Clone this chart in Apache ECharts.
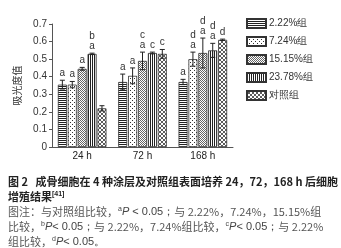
<!DOCTYPE html>
<html>
<head>
<meta charset="utf-8">
<script src="https://cdn.jsdelivr.net/npm/echarts@6/dist/echarts.min.js"></script>
<style>
  html, body { margin: 0; padding: 0; background: #fff; }
  #chart { width: 341px; height: 248px; }
</style>
</head>
<body>
<div id="chart"></div>
<script>
// data
const categories = ['24 h', '72 h', '168 h']
const groups = ['2.22%组', '7.24%组', '15.15%组', '23.78%组', '对照组']
const means = [
  [0.355, 0.37, 0.37],
  [0.355, 0.405, 0.50],
  [0.445, 0.49, 0.535],
  [0.53, 0.535, 0.55],
  [0.22, 0.53, 0.61]
]
const errs = [
  [0.025, 0.045, 0.015],
  [0.018, 0.045, 0.04],
  [0.008, 0.05, 0.085],
  [0.004, 0.005, 0.04],
  [0.015, 0.025, 0.004]
]
const marks = [
  ['a', 'a', 'a'],
  ['a', 'a', 'd\na'],
  ['a', 'c\na', 'd\na'],
  ['b\na', 'c', 'd\na'],
  ['', 'c', 'd']
]
const yTicks = [0, 0.1, 0.2, 0.3, 0.4, 0.5, 0.6, 0.7]

const BAR_W = 9, BAR_GAP = 0.9
const TXT = '"Liberation Sans", Arial, sans-serif'
const CJK = '"Noto Sans CJK SC", sans-serif'

// small canvas tiles used as fill patterns
function tile(w, h, draw) {
  const c = document.createElement('canvas')
  c.width = w; c.height = h
  const ctx = c.getContext('2d')
  ctx.fillStyle = '#fff'
  ctx.fillRect(0, 0, w, h)
  draw(ctx)
  return { image: c, repeat: 'repeat' }
}
const patterns = [
  tile(3, 2, ctx => { ctx.fillStyle = '#222'; ctx.fillRect(0, 0, 3, 1) }),
  tile(4, 4, ctx => { ctx.fillStyle = '#333'; ctx.fillRect(0, 0, 1, 1); ctx.fillRect(2, 2, 1, 1) }),
  tile(2, 2, ctx => { ctx.fillStyle = '#666'; ctx.fillRect(0, 0, 1, 1); ctx.fillRect(1, 1, 1, 1) }),
  tile(2, 2, ctx => { ctx.fillStyle = '#222'; ctx.fillRect(0, 0, 1, 2) }),
  tile(4, 4, ctx => {
    ctx.strokeStyle = '#333'; ctx.lineWidth = 0.8
    ctx.beginPath(); ctx.moveTo(0, 0); ctx.lineTo(4, 4); ctx.moveTo(4, 0); ctx.lineTo(0, 4); ctx.stroke()
  })
]

const barSeries = groups.map((g, i) => ({
  name: g,
  type: 'bar',
  barWidth: BAR_W,
  barGap: '10%',
  data: means[i],
  itemStyle: { color: patterns[i], borderColor: '#333', borderWidth: 0.8 },
  emphasis: { disabled: true }
}))

const errSeries = groups.map((g, gi) => ({
  type: 'custom',
  z: 10,
  silent: true,
  data: categories.map((c, ci) => [ci, means[gi][ci], errs[gi][ci]]),
  renderItem(params, api) {
    const ci = api.value(0)
    const top = api.coord([ci, api.value(1) + api.value(2)])
    const bot = api.coord([ci, api.value(1) - api.value(2)])
    const x = top[0] + (gi - 2) * (BAR_W + BAR_GAP)
    const ls = { stroke: '#222', lineWidth: 1 }
    return {
      type: 'group',
      children: [
        { type: 'line', shape: { x1: x, y1: top[1], x2: x, y2: bot[1] }, style: ls },
        { type: 'line', shape: { x1: x - 2.5, y1: top[1], x2: x + 2.5, y2: top[1] }, style: ls },
        { type: 'line', shape: { x1: x - 2.5, y1: bot[1], x2: x + 2.5, y2: bot[1] }, style: ls },
        {
          type: 'text',
          style: {
            x: x, y: top[1] - 2, text: marks[gi][ci],
            textAlign: 'center', textVerticalAlign: 'bottom',
            font: '10px ' + TXT, lineHeight: 10, fill: '#333'
          }
        }
      ]
    }
  }
}))

const sup = { fontSize: 7, verticalAlign: 'top', fontFamily: TXT, fill: '#444' }
const noteRich = {
  n: { fontSize: 11, fontFamily: CJK, fill: '#555' },
  s: sup,
  i: { fontSize: 11, fontFamily: TXT, fontStyle: 'italic', fill: '#444' },
  d: { fontSize: 11, fontFamily: TXT, fill: '#444' }
}

const option = {
  animation: false,
  grid: { left: 52, right: 108, top: 24, bottom: 101 },
  legend: {
    orient: 'vertical',
    left: 241, top: 13,
    itemWidth: 19, itemHeight: 9, itemGap: 7,
    icon: 'rect',
    textStyle: { fontSize: 10, fontFamily: TXT, color: '#333', padding: [0, 0, 0, -2] },
    data: groups
  },
  xAxis: {
    type: 'category',
    data: categories,
    axisLine: { lineStyle: { color: '#555' } },
    axisTick: { lineStyle: { color: '#555' }, length: 3 },
    axisLabel: { fontSize: 10, fontFamily: TXT, color: '#222', margin: 4 }
  },
  yAxis: {
    type: 'value',
    min: yTicks[0], max: yTicks[yTicks.length - 1], interval: 0.1,
    name: '吸光度值',
    nameLocation: 'middle', nameRotate: 90, nameGap: 27,
    nameTextStyle: { fontSize: 10, fontFamily: CJK, color: '#333' },
    splitLine: { show: false },
    axisLine: { show: true, lineStyle: { color: '#555' } },
    axisTick: { show: true, length: 3, lineStyle: { color: '#555' } },
    axisLabel: { fontSize: 10, fontFamily: TXT, color: '#333', margin: 5 }
  },
  graphic: [
    {
      type: 'text', left: 8, top: 176,
      style: { text: '图 2   成骨细胞在 4 种涂层及对照组表面培养 24，72，168 h 后细胞', font: 'bold 11px ' + CJK, fill: '#222' }
    },
    {
      type: 'text', left: 8, top: 191,
      style: {
        text: '{t|增殖结果}{s|[41]}',
        rich: { t: { fontSize: 11, fontWeight: 'bold', fontFamily: CJK, fill: '#222' }, s: { fontSize: 7, fontWeight: 'bold', verticalAlign: 'top', fill: '#222' } }
      }
    },
    {
      type: 'text', left: 8, top: 206,
      style: { text: '{n|图注：与对照组比较，}{s|a}{i|P}{d| < 0.05；}{n|与 2.22%，7.24%，15.15%组}', rich: noteRich }
    },
    {
      type: 'text', left: 8, top: 221,
      style: { text: '{n|比较，}{s|b}{i|P}{d|< 0.05；}{n|与 2.22%，7.24%组比较，}{s|c}{i|P}{d|< 0.05；}{n|与 2.22%}', rich: noteRich }
    },
    {
      type: 'text', left: 8, top: 236,
      style: { text: '{n|组比较，}{s|d}{i|P}{d|< 0.05。}', rich: noteRich }
    }
  ],
  series: barSeries.concat(errSeries)
}

const chart = echarts.init(document.getElementById('chart'))
chart.setOption(option)
</script>
</body>
</html>
